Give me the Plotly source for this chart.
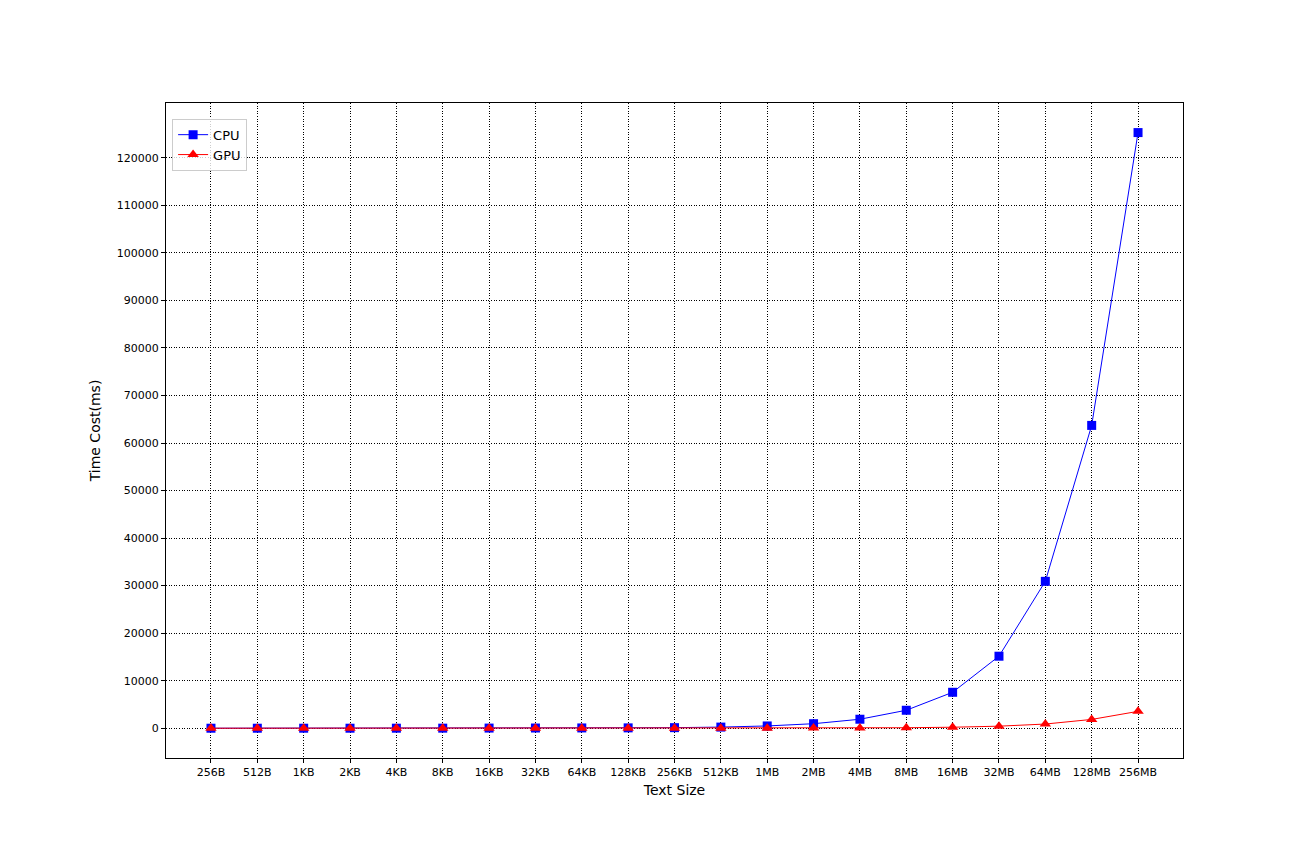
import plotly.graph_objects as go

categories = ["256B", "512B", "1KB", "2KB", "4KB", "8KB", "16KB", "32KB", "64KB", "128KB",
              "256KB", "512KB", "1MB", "2MB", "4MB", "8MB", "16MB", "32MB", "64MB", "128MB", "256MB"]
cpu_ms = [0.5, 1, 2, 4, 7, 15, 30, 45, 60, 75, 120, 240, 480, 950, 1890, 3780, 7560, 15150, 30900, 63700, 125300]
gpu_ms = [1, 1, 1, 1, 2, 2, 3, 4, 5, 7, 10, 14, 20, 32, 55, 105, 210, 430, 880, 1850, 3550]
y_ticks = list(range(0, 120001, 10000))

x_idx = list(range(len(categories)))

fig = go.Figure()
fig.add_trace(go.Scatter(
    x=x_idx, y=cpu_ms, name="CPU", mode="lines+markers",
    line=dict(color="#0000ff", width=1),
    marker=dict(symbol="square", size=9, color="#0000ff"),
))
fig.add_trace(go.Scatter(
    x=x_idx, y=gpu_ms, name="GPU", mode="lines+markers",
    line=dict(color="#ff0000", width=1),
    marker=dict(symbol="triangle-up", size=10, color="#ff0000"),
))

axis_common = dict(
    showline=True, linecolor="black", linewidth=1, mirror=True,
    ticks="outside", ticklen=4, tickcolor="black", tickwidth=1,
    showgrid=True, gridcolor="black", gridwidth=0.8, griddash="1px,1.6px",
    zeroline=False,
    tickfont=dict(family="DejaVu Sans", size=11, color="black"),
)

fig.update_layout(
    width=1300, height=836,
    paper_bgcolor="white", plot_bgcolor="white",
    margin=dict(l=158, r=125, t=95, b=86),
    font=dict(family="DejaVu Sans", color="black"),
    xaxis=dict(
        axis_common, range=[-0.97, 20.97],
        tickmode="array", tickvals=x_idx, ticktext=categories,
        title=dict(text="Text Size", font=dict(size=14), standoff=6),
    ),
    yaxis=dict(
        axis_common, range=[-6263, 131523],
        tickmode="array", tickvals=y_ticks, ticktext=[str(v) for v in y_ticks],
        title=dict(text="Time Cost(ms)", font=dict(size=14), standoff=12),
    ),
    legend=dict(
        x=0.006, y=0.976, xanchor="left", yanchor="top",
        bgcolor="rgba(255,255,255,0.8)", bordercolor="#cccccc", borderwidth=1,
        font=dict(size=13), tracegroupgap=2,
    ),
    showlegend=True,
)

fig.write_html("out.html")
